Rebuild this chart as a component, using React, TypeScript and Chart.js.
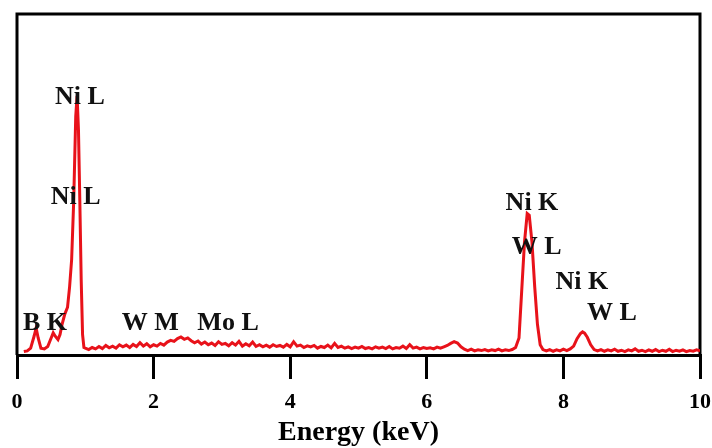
import React, { useEffect, useRef } from 'react';
import { Chart, registerables } from 'chart.js';

Chart.register(...registerables);

const energy = [
  0.10, 0.15, 0.20, 0.25, 0.28, 0.31, 0.35, 0.40, 0.45, 0.50, 0.53, 0.56, 0.60, 0.63, 0.66, 0.70,
  0.74, 0.77, 0.80, 0.83, 0.86, 0.88, 0.90, 0.92, 0.94, 0.96, 0.98,
  1.00, 1.05, 1.10, 1.15, 1.20, 1.25, 1.30, 1.35, 1.40, 1.45, 1.50, 1.55, 1.60, 1.65, 1.70, 1.75,
  1.80, 1.85, 1.90, 1.95, 2.00, 2.05, 2.10, 2.15, 2.20, 2.25, 2.30, 2.35, 2.40, 2.45, 2.50, 2.55,
  2.60, 2.65, 2.70, 2.75, 2.80, 2.85, 2.90, 2.95, 3.00, 3.05, 3.10, 3.15, 3.20, 3.25, 3.30, 3.35,
  3.40, 3.45, 3.50, 3.55, 3.60, 3.65, 3.70, 3.75, 3.80, 3.85, 3.90, 3.95, 4.00, 4.05, 4.10, 4.15,
  4.20, 4.25, 4.30, 4.35, 4.40, 4.45, 4.50, 4.55, 4.60, 4.65, 4.70, 4.75, 4.80, 4.85, 4.90, 4.95,
  5.00, 5.05, 5.10, 5.15, 5.20, 5.25, 5.30, 5.35, 5.40, 5.45, 5.50, 5.55, 5.60, 5.65, 5.70, 5.75,
  5.80, 5.85, 5.90, 5.95, 6.00, 6.05, 6.10, 6.15, 6.20, 6.25, 6.30, 6.35, 6.40, 6.45, 6.50, 6.55,
  6.60, 6.65, 6.70, 6.75, 6.80, 6.85, 6.90, 6.95, 7.00, 7.05, 7.10, 7.15, 7.20, 7.25, 7.30, 7.35,
  7.39, 7.43, 7.47, 7.50, 7.54, 7.58, 7.62, 7.66, 7.70, 7.75, 7.80, 7.85, 7.90, 7.95, 8.00, 8.05,
  8.10, 8.15, 8.20, 8.25, 8.28, 8.31, 8.35, 8.40, 8.45, 8.50, 8.55, 8.60, 8.65, 8.70, 8.75, 8.80,
  8.85, 8.90, 8.95, 9.00, 9.05, 9.10, 9.15, 9.20, 9.25, 9.30, 9.35, 9.40, 9.45, 9.50, 9.55, 9.60,
  9.65, 9.70, 9.75, 9.80, 9.85, 9.90, 9.95, 10.00,
];

const counts = [
  1.0, 1.2, 2.0, 5.5, 7.9, 5.0, 2.0, 1.8, 2.5, 5.0, 6.5, 5.5, 4.5, 6.0, 9.0, 12.0,
  14, 20, 28, 45, 70, 76, 66, 45, 22, 6, 2.2,
  2.0, 1.6, 2.2, 1.8, 2.5, 1.9, 2.8, 2.1, 2.6, 2.0, 3.0, 2.4, 2.9, 2.2, 3.1, 2.5,
  3.6, 2.6, 3.3, 2.4, 3.0, 2.6, 3.4, 2.9, 3.8, 4.3, 4.0, 4.8, 5.3, 4.6, 5.0, 4.2,
  3.6, 4.1, 3.2, 3.8, 3.0, 3.5, 2.8, 3.9, 3.1, 3.4, 2.7, 3.6, 2.9, 4.0, 2.6, 3.3,
  2.7, 3.8, 2.5, 3.0, 2.4, 2.9, 2.3, 3.0, 2.5, 2.8, 2.3, 3.1, 2.4, 3.9, 2.6, 2.9,
  2.2, 2.7, 2.4, 2.8, 2.0, 2.5, 2.2, 2.9, 2.1, 3.4, 2.2, 2.6, 2.0, 2.4, 1.9, 2.3,
  2.0, 2.5, 1.9, 2.2, 1.8, 2.4, 2.0, 2.3, 1.9, 2.5, 1.8, 2.2, 2.0, 2.6, 1.9, 3.0,
  2.0, 2.3, 1.8, 2.2, 1.9, 2.1, 1.8, 2.3, 2.0, 2.4, 2.8, 3.4, 3.9, 3.5, 2.4, 1.7,
  1.3, 1.7, 1.2, 1.5, 1.3, 1.6, 1.2, 1.5, 1.3, 1.7, 1.2, 1.5, 1.3, 1.6, 2.2, 5.0,
  19, 33, 41.5, 41, 33, 20, 9, 3, 1.6, 1.2, 1.6, 1.1, 1.5, 1.2, 1.7, 1.3,
  1.8, 2.6, 4.8, 6.3, 6.8, 6.4, 5.2, 3.0, 1.6, 1.2, 1.6, 1.1, 1.5, 1.2, 1.7, 1.1,
  1.4, 1.0, 1.5, 1.2, 1.8, 1.1, 1.4, 1.0, 1.5, 1.1, 1.6, 1.0, 1.4, 1.1, 1.7, 1.0,
  1.4, 1.1, 1.5, 1.0, 1.3, 1.1, 1.5, 1.2,
];

const xTicks = [0, 2, 4, 6, 8, 10];

const peakLabels = ['Ni L', 'Ni L', 'B K', 'W M', 'Mo L', 'Ni K', 'W L', 'Ni K', 'W L'];
const peakLabelEnergy = [0.92, 0.86, 0.41, 1.95, 3.09, 7.54, 7.61, 8.27, 8.71];
const peakLabelCounts = [75.7, 46.3, 9.4, 9.4, 9.4, 44.6, 31.7, 21.4, 12.3];

const SERIF = "'Liberation Serif', 'Times New Roman', serif";

export default function App() {
  const ref = useRef<HTMLCanvasElement>(null);

  useEffect(() => {
    document.body.style.margin = '0';
    const canvas = ref.current;
    if (!canvas) return;

    const framePlugin = {
      id: 'frame',
      beforeDatasetsDraw(chart: any) {
        const { ctx, chartArea } = chart;
        ctx.save();
        ctx.strokeStyle = '#000';
        ctx.lineWidth = 3;
        ctx.beginPath();
        ctx.moveTo(chartArea.left, chartArea.bottom);
        ctx.lineTo(chartArea.left, chartArea.top);
        ctx.lineTo(chartArea.right, chartArea.top);
        ctx.lineTo(chartArea.right, chartArea.bottom);
        ctx.stroke();
        ctx.restore();
      },
      afterDatasetsDraw(chart: any) {
        const { ctx } = chart;
        const xs = chart.scales.x;
        const ys = chart.scales.y;
        ctx.save();
        ctx.fillStyle = '#111';
        ctx.font = `bold 26px ${SERIF}`;
        ctx.textAlign = 'center';
        ctx.textBaseline = 'middle';
        peakLabels.forEach((t, i) => {
          ctx.fillText(t, xs.getPixelForValue(peakLabelEnergy[i]), ys.getPixelForValue(peakLabelCounts[i]));
        });
        ctx.restore();
      },
    };

    const chart = new Chart(canvas, {
      type: 'line',
      data: {
        datasets: [
          {
            data: energy.map((e, i) => ({ x: e, y: counts[i] })),
            borderColor: '#e8121a',
            borderWidth: 3,
            pointRadius: 0,
            tension: 0,
            fill: false,
          },
        ],
      },
      options: {
        responsive: false,
        animation: false,
        layout: { padding: { left: 17, right: 12, top: 14, bottom: 0 } },
        plugins: { legend: { display: false }, tooltip: { enabled: false } },
        scales: {
          x: {
            type: 'linear',
            min: 0,
            max: 10,
            afterBuildTicks: (s: any) => {
              s.ticks = xTicks.map((v) => ({ value: v }));
            },
            afterFit: (s: any) => {
              s.height = 93;
              s.paddingLeft = 0;
              s.paddingRight = 0;
            },
            grid: {
              drawOnChartArea: false,
              drawTicks: true,
              tickLength: 24,
              color: '#000',
              lineWidth: 3,
            },
            border: { display: true, color: '#000', width: 3 },
            ticks: {
              color: '#000',
              padding: 10,
              maxRotation: 0,
              font: { family: SERIF, size: 22, weight: 'bold' },
            },
            title: {
              display: true,
              text: 'Energy (keV)',
              color: '#000',
              font: { family: SERIF, size: 28, weight: 'bold', lineHeight: 1 },
              padding: { top: 0, bottom: 1 },
            },
          },
          y: {
            display: false,
            min: 0,
            max: 100,
          },
        },
      },
      plugins: [framePlugin],
    });

    return () => chart.destroy();
  }, []);

  return (
    <div style={{ width: 712, height: 448 }}>
      <canvas ref={ref} width={712} height={448} />
    </div>
  );
}
